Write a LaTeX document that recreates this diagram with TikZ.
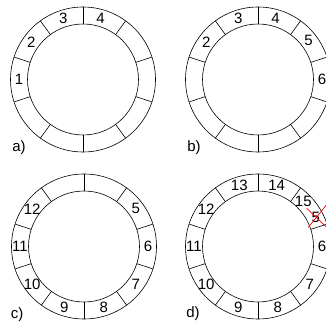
\documentclass[tikz,border=0pt]{standalone}
\usepackage{fontspec}
\setmainfont{Liberation Sans}
\begin{document}
\begin{tikzpicture}[x=1pt, y=1pt, line width=0.6pt,
    digit/.style={font=\fontsize{15}{17}\selectfont, inner sep=0pt},
    crossout/.style={red, line width=0.7pt}]
        \useasboundingbox (0,0) rectangle (326,327);
        \clip (0,0) rectangle (326,327);

        % Ring centres
        \coordinate (a) at (83,247.5);
        \coordinate (b) at (258,247.5);
        \coordinate (c) at (84,80.5);
        \coordinate (d) at (258,80.5);

        % Rings with ten slots
        \foreach \r in {a,b,c,d} {
            \draw (\r) circle (72.5);
            \draw (\r) circle (55.5);
            \foreach \ang in {18,54,...,342}
                \draw (\r) ++(\ang:55.5) -- ++(\ang:17);
        }

        % Slot numbers
        \foreach \n/\ang in {1/180, 2/144, 3/108, 4/74}
            \path (a) ++(\ang:64) node[digit] (a\n) {\n};
        \foreach \n/\ang in {2/144, 3/108, 4/74, 5/38, 6/0}
            \path (b) ++(\ang:64) node[digit] (b\n) {\n};
        \foreach \n/\ang in {5/36, 6/0, 7/-36, 8/-72, 9/-108, 10/-144, 11/180, 12/144}
            \path (c) ++(\ang:64) node[digit] (c\n) {\n};
        \foreach \n/\ang in {6/0, 7/-36, 8/-72, 9/-108, 10/-144, 11/180, 12/144, 13/107, 14/73, 15/45}
            \path (d) ++(\ang:64) node[digit] (d\n) {\n};
        \path (d) ++(27:65) node[digit] (d5) {5};

        % Crossed out slot
        \draw[crossout] (d) ++(48.7,38.2) -- ++(21,-20);
        \draw[crossout] (d) ++(50.3,19.2) -- ++(19,23.5);

        % Panel letters
        \node[digit] (la) at (19,179) {a)};
        \node[digit] (lb) at (194,179) {b)};
        \node[digit] (lc) at (17,12.5) {c)};
        \node[digit] (ld) at (193,13.5) {d)};
    \end{tikzpicture}
\end{document}
